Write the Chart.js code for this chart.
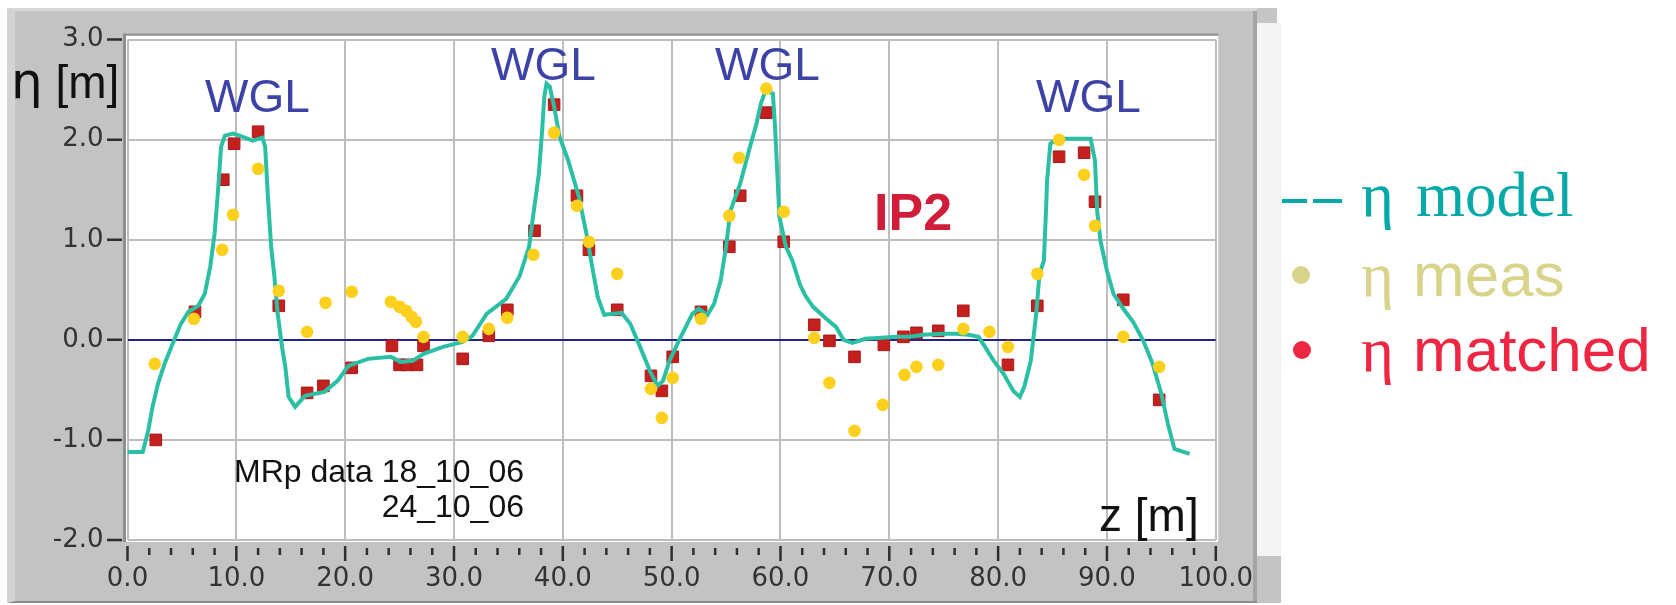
<!DOCTYPE html>
<html>
<head>
<meta charset="utf-8">
<script src="https://cdn.jsdelivr.net/npm/chart.js@4.4.1/dist/chart.umd.min.js"></script>
<style>
  html, body { margin: 0; padding: 0; background: #ffffff; }
  #page { position: relative; width: 1676px; height: 605px; overflow: hidden; background: #ffffff; }
  .frame { position: absolute; left: 7px; top: 8px; width: 1250px; height: 595px;
           background: #c3c3c3; box-sizing: border-box;
           border-left: 8px solid #d3d3d3; border-top: 3px solid #d6d6d6; border-bottom: 2px solid #8c8c8c; }
  .frameEdge { position: absolute; left: 1253px; top: 11px; width: 4px; height: 590px; background: #a4a4a4; }
  .strip { position: absolute; left: 1257px; top: 23px; width: 24px; height: 533px; background: #f4f4f4; }
  .stripTop { position: absolute; left: 1257px; top: 8px; width: 20px; height: 15px; background: #c6c6c6; }
  .stripBottom { position: absolute; left: 1257px; top: 556px; width: 24px; height: 47px; background: #c3c3c3; }
  canvas { position: absolute; left: 0; top: 0; }
  .t { position: absolute; white-space: nowrap; line-height: 1; }
  .sans { font-family: "Liberation Sans", Arial, sans-serif; }
  .serif { font-family: "Liberation Serif", "Times New Roman", serif; }
  .wgl { font-size: 46px; color: #3d43a6; }
  .dash { position: absolute; height: 4px; background: #05aaa8; }
  .dot { position: absolute; width: 18px; height: 18px; border-radius: 50%; }
</style>
</head>
<body>
<div id="page">
  <div class="frame"></div>
  <div class="frameEdge"></div>
  <div class="stripTop"></div>
  <div class="strip"></div>
  <div class="stripBottom"></div>
  <canvas id="chart" width="1277" height="605"></canvas>

  <div class="t sans" style="left:11px; top:56px; font-size:46px; color:#111;"><span style="font-family:'DejaVu Sans'; font-size:50px;">η</span> [m]</div>
  <div class="t sans" style="left:1099px; top:492px; font-size:46px; color:#111;">z [m]</div>

  <div class="t sans wgl" style="left:205px; top:73px;">WGL</div>
  <div class="t sans wgl" style="left:491px; top:41px;">WGL</div>
  <div class="t sans wgl" style="left:715px; top:41px;">WGL</div>
  <div class="t sans wgl" style="left:1036px; top:73px;">WGL</div>

  <div class="t sans" style="left:874px; top:186px; font-size:52px; font-weight:bold; color:#cf1d3a;">IP2</div>

  <div class="t sans" style="left:180px; width:344px; text-align:right; top:455px; font-size:32px; color:#111;">MRp data 18_10_06</div>
  <div class="t sans" style="left:180px; width:344px; text-align:right; top:490px; font-size:32px; color:#111;">24_10_06</div>

  <div class="dash" style="left:1282px; top:199px; width:25px;"></div>
  <div class="dash" style="left:1313px; top:199px; width:29px;"></div>
  <div class="t serif" style="left:1361px; top:164px; font-size:63px; color:#05aaa8;">η</div>
  <div class="t serif" style="left:1416px; top:164px; font-size:63px; color:#05aaa8;">model</div>

  <div class="dot" style="left:1292px; top:266px; background:#d9d48c;"></div>
  <div class="t serif" style="left:1361px; top:244px; font-size:63px; color:#d9d48c;">η</div>
  <div class="t sans" style="left:1413px; top:244px; font-size:62px; color:#d9d48c;">meas</div>

  <div class="dot" style="left:1293px; top:341px; background:#ee2642;"></div>
  <div class="t serif" style="left:1361px; top:319px; font-size:63px; color:#ee2642;">η</div>
  <div class="t sans" style="left:1413px; top:319px; font-size:62px; color:#ee2642;">matched</div>
</div>

<script>
// Position along the ring z [m] and dispersion eta [m]
const zModel = [0.0, 1.4, 1.9, 2.3, 2.8, 3.4, 4.3, 4.9, 5.6, 6.5, 7.1, 7.6, 8.0, 8.3, 8.6, 8.95, 9.7, 10.3, 11.5, 12.4,
  12.65, 12.9, 13.2, 13.5, 13.8, 14.2, 14.5, 14.8, 15.4, 16.3, 18.1, 19.3, 20.3, 22.1, 24.2, 25.1, 26.2, 27.2, 29.0, 30.8,
  31.7, 33.0, 34.8, 36.0, 36.9, 37.3, 37.8, 38.1, 38.3, 38.5, 38.8, 39.2, 39.7, 40.5, 41.5, 42.3, 42.7, 43.2, 43.8, 45.4,
  46.2, 47.1, 48.0, 48.7, 49.2, 49.8, 50.7, 51.9, 52.5, 53.3, 53.9, 54.5, 55.0, 55.4, 56.3, 57.2, 57.8, 58.2, 58.6, 58.9,
  59.3, 59.5, 59.7, 59.9, 60.5, 61.1, 61.8, 62.3, 63.0, 64.2, 65.1, 65.8, 66.6, 67.8, 69.3, 70.7, 71.9, 73.1, 74.9, 76.1,
  77.3, 78.2, 78.8, 79.6, 80.5, 81.4, 82.0, 82.4, 83.0, 83.5, 83.8, 84.2, 84.4, 84.5, 84.8, 85.5, 88.5, 88.9, 89.1, 89.4,
  90.0, 90.6, 91.5, 92.4, 93.3, 94.2, 95.0, 95.6, 96.2, 97.6];
const etaModel = [-1.12, -1.12, -0.91, -0.67, -0.44, -0.24, 0.00, 0.16, 0.28, 0.34, 0.46, 0.73, 1.06, 1.46, 1.93, 2.04, 2.06, 2.04, 1.99, 2.02,
  1.93, 1.43, 0.93, 0.63, 0.26, -0.07, -0.27, -0.57, -0.67, -0.56, -0.52, -0.41, -0.26, -0.19, -0.17, -0.22, -0.21, -0.14, -0.07, -0.02,
  0.04, 0.26, 0.41, 0.63, 0.93, 1.26, 1.66, 2.09, 2.43, 2.56, 2.53, 2.33, 2.03, 1.79, 1.42, 0.99, 0.73, 0.43, 0.25, 0.27,
  0.16, -0.07, -0.31, -0.46, -0.41, -0.21, 0.00, 0.26, 0.31, 0.25, 0.36, 0.59, 0.93, 1.29, 1.56, 1.93, 2.16, 2.36, 2.48, 2.48,
  2.46, 2.13, 1.69, 1.23, 0.93, 0.79, 0.55, 0.44, 0.33, 0.21, 0.13, 0.00, -0.03, 0.01, 0.02, 0.03, 0.03, 0.05, 0.06, 0.06,
  0.05, 0.03, -0.07, -0.21, -0.34, -0.51, -0.57, -0.47, -0.21, 0.26, 0.66, 0.79, 1.29, 1.59, 1.96, 2.01, 2.01, 1.79, 1.29, 0.99,
  0.69, 0.46, 0.31, 0.18, 0.00, -0.24, -0.54, -0.84, -1.09, -1.14];

const zMeas = [2.5, 6.1, 8.7, 9.7, 12.0, 13.9, 16.5, 18.2, 20.6, 24.2, 25.0, 25.6, 26.1, 26.5, 27.2, 30.8, 33.2, 34.9, 37.3, 39.2,
  41.3, 42.4, 45.0, 48.1, 49.1, 50.1, 52.7, 55.3, 56.2, 58.7, 60.3, 63.1, 64.5, 66.8, 69.4, 71.4, 72.5, 74.5, 76.8, 79.2,
  80.9, 83.6, 85.6, 87.9, 88.9, 91.5, 94.8];
const etaMeas = [-0.24, 0.21, 0.90, 1.25, 1.71, 0.49, 0.08, 0.37, 0.48, 0.38, 0.33, 0.29, 0.23, 0.18, 0.03, 0.03, 0.11, 0.22, 0.85, 2.07,
  1.34, 0.98, 0.66, -0.49, -0.78, -0.38, 0.21, 1.24, 1.82, 2.51, 1.28, 0.02, -0.43, -0.91, -0.65, -0.35, -0.27, -0.25, 0.11, 0.08,
  -0.07, 0.66, 2.00, 1.65, 1.14, 0.03, -0.27];

const zMatched = [2.6, 6.2, 8.8, 9.8, 12.0, 13.9, 16.5, 18.0, 20.6, 24.3, 25.0, 25.7, 26.6, 27.2, 30.8, 33.2, 34.9, 37.4, 39.2, 41.3,
  42.4, 45.0, 48.1, 49.1, 50.1, 52.7, 55.3, 56.3, 58.7, 60.3, 63.1, 64.5, 66.8, 69.5, 71.3, 72.5, 74.5, 76.8, 80.9, 83.6,
  85.6, 87.9, 88.9, 91.5, 94.8];
const etaMatched = [-1.00, 0.28, 1.60, 1.96, 2.08, 0.34, -0.53, -0.46, -0.28, -0.06, -0.25, -0.25, -0.25, -0.06, -0.19, 0.04, 0.30, 1.09, 2.35, 1.44,
  0.90, 0.30, -0.36, -0.51, -0.17, 0.28, 0.93, 1.44, 2.27, 0.98, 0.15, -0.01, -0.17, -0.05, 0.03, 0.07, 0.09, 0.29, -0.25, 0.34,
  1.83, 1.87, 1.38, 0.40, -0.60];

const xTicks = [0, 10, 20, 30, 40, 50, 60, 70, 80, 90, 100];
const yTicks = [-2, -1, 0, 1, 2, 3];
const xMinorStep = 2;

const toPoints = (xs, ys) => xs.map((x, i) => ({ x: x, y: ys[i] }));

// White plot field with a shaded inner edge, and the tick marks of both axes
const plotFrame = {
  id: 'plotFrame',
  beforeDraw(chart) {
    const { ctx, chartArea: a } = chart;
    ctx.save();
    ctx.fillStyle = '#ffffff';
    ctx.fillRect(a.left - 1.5, a.top - 4, a.right - a.left + 4, a.bottom - a.top + 6);
    ctx.fillStyle = '#8e8e8e';
    ctx.fillRect(a.left - 4.5, a.top - 6, 3, a.bottom - a.top + 8);
    ctx.fillRect(a.left - 4.5, a.top - 6, a.right - a.left + 7, 2);
    ctx.restore();
  },
  afterDraw(chart) {
    const { ctx, chartArea: a, scales } = chart;
    ctx.save();
    ctx.strokeStyle = '#2e2e2e';
    ctx.lineWidth = 2.5;
    ctx.beginPath();
    for (const v of yTicks) {
      const py = scales.y.getPixelForValue(v);
      ctx.moveTo(a.left - 20.5, py);
      ctx.lineTo(a.left - 5.5, py);
    }
    for (let v = scales.x.min; v <= scales.x.max + 1e-9; v += xMinorStep) {
      const px = scales.x.getPixelForValue(v);
      const major = xTicks.includes(Math.round(v));
      ctx.moveTo(px, a.bottom + (major ? 6 : 8));
      ctx.lineTo(px, a.bottom + (major ? 21 : 15));
    }
    ctx.stroke();
    ctx.restore();
  }
};

const tickFont = { family: 'DejaVu Sans', size: 26 };

new Chart(document.getElementById('chart'), {
  type: 'scatter',
  data: {
    datasets: [
      {
        label: 'η meas',
        data: toPoints(zMeas, etaMeas),
        pointStyle: 'circle',
        pointRadius: 6.3,
        backgroundColor: '#fdd01e',
        borderWidth: 0,
        order: 1
      },
      {
        label: 'η model',
        data: toPoints(zModel, etaModel),
        showLine: true,
        borderColor: '#2bbfa4',
        borderWidth: 4,
        pointRadius: 0,
        tension: 0,
        fill: false,
        order: 2
      },
      {
        label: 'η matched',
        data: toPoints(zMatched, etaMatched),
        pointStyle: 'rect',
        pointRadius: 8.2,
        backgroundColor: '#c4201d',
        borderColor: '#a81b1b',
        borderWidth: 1,
        order: 3
      }
    ]
  },
  options: {
    responsive: false,
    animation: false,
    events: [],
    layout: { padding: { left: 0, top: 39, right: 39.5, bottom: 0 } },
    plugins: { legend: { display: false }, tooltip: { enabled: false } },
    scales: {
      x: {
        type: 'linear',
        min: 0,
        max: 100,
        afterBuildTicks: (s) => { s.ticks = xTicks.map(v => ({ value: v })); },
        afterFit: (s) => { s.height = 65; },
        ticks: {
          callback: (v) => Number(v).toFixed(1),
          font: tickFont,
          color: '#333333',
          padding: 24,
          maxRotation: 0,
          autoSkip: false
        },
        grid: { color: '#bdbdbd', lineWidth: 2, drawTicks: false },
        border: { display: false }
      },
      y: {
        type: 'linear',
        min: -2,
        max: 3,
        afterBuildTicks: (s) => { s.ticks = yTicks.map(v => ({ value: v })); },
        afterFit: (s) => { s.width = 127.5; },
        ticks: {
          callback: (v) => Number(v).toFixed(1),
          font: tickFont,
          color: '#333333',
          padding: 24
        },
        grid: {
          color: (c) => (c.tick && c.tick.value === 0 ? '#23238f' : '#bdbdbd'),
          lineWidth: 2,
          drawTicks: false
        },
        border: { display: false }
      }
    }
  },
  plugins: [plotFrame]
});
</script>
</body>
</html>
